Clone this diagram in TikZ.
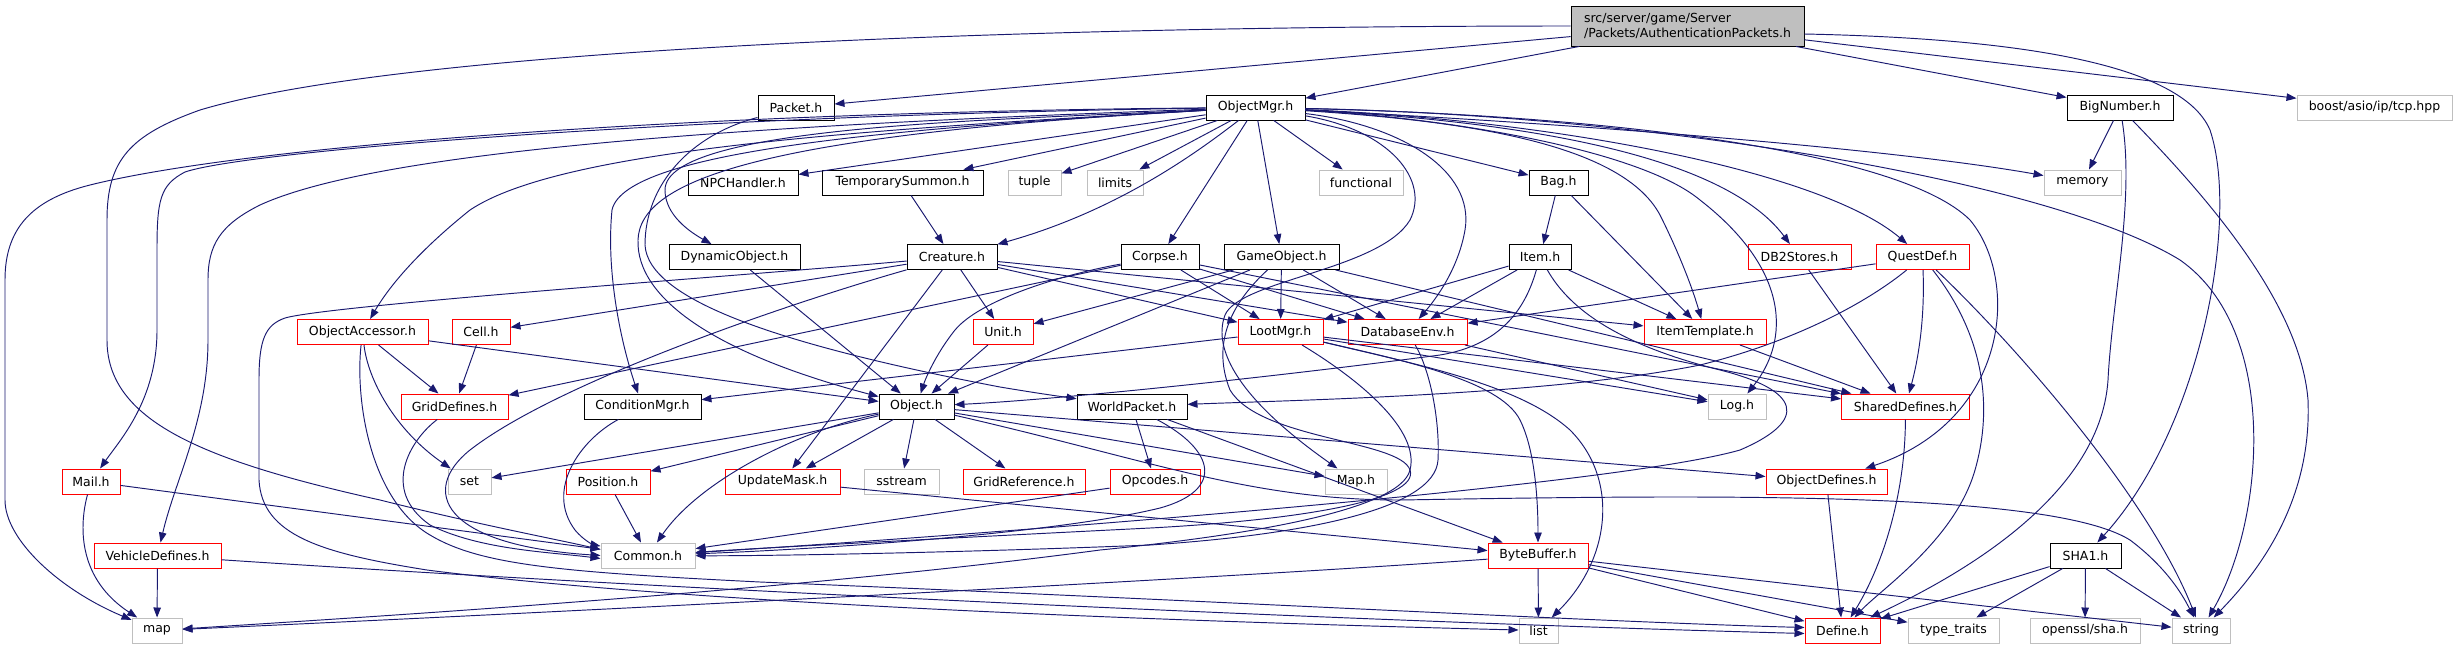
\documentclass[tikz,border=0pt]{standalone}
\usepackage{fontspec}
\setmainfont{DejaVu Sans}
\usetikzlibrary{arrows.meta}
\definecolor{edgeblue}{RGB}{25,25,112}
\definecolor{greyb}{RGB}{191,191,191}
\definecolor{redb}{RGB}{255,0,0}
\tikzset{
  box/.style={draw, line width=1pt, inner sep=0pt, minimum height=25pt, fill=white, font=\fontsize{12.5}{15}\selectfont},
  blkbox/.style={box, draw=black, line width=0.9pt},
  redbox/.style={box, draw=redb},
  graybox/.style={box, draw=greyb},
  lnk/.style={draw=edgeblue, line width=0.95pt, -{Triangle[length=10pt,width=7.5pt]}}
}
\begin{document}
\begin{tikzpicture}[x=1pt,y=-1pt]
\useasboundingbox (0,0) rectangle (2457,649);
\fill[white] (0,0) rectangle (2457,649);
% row 0
\node[blkbox, fill=greyb, minimum width=233pt, minimum height=40pt, align=left] (main) at (1687.5,26) {src/server/game/Server\\/Packets/AuthenticationPackets.h};
% row 1
\node[blkbox, minimum width=76pt] (packet) at (796,107.5) {Packet.h};
\node[blkbox, minimum width=99pt] (objmgr) at (1255.5,107.5) {ObjectMgr.h};
\node[blkbox, minimum width=106pt] (bignum) at (2120,107.5) {BigNumber.h};
\node[graybox, minimum width=155pt] (tcp) at (2374.5,107.5) {boost/asio/ip/tcp.hpp};
% row 2
\node[blkbox, minimum width=110pt] (npch) at (743,182.5) {NPCHandler.h};
\node[blkbox, minimum width=161pt] (tsum) at (902.5,182.5) {TemporarySummon.h};
\node[graybox, minimum width=53pt] (tuple) at (1034.5,182.5) {tuple};
\node[graybox, minimum width=56pt] (limits) at (1115,182.5) {limits};
\node[graybox, minimum width=84pt] (functional) at (1361,182.5) {functional};
\node[blkbox, minimum width=59pt] (bag) at (1558.5,182.5) {Bag.h};
\node[graybox, minimum width=77pt] (memory) at (2082.5,182.5) {memory};
% row 3
\node[blkbox, minimum width=131pt] (dynobj) at (734.5,257) {DynamicObject.h};
\node[blkbox, minimum width=90pt] (creature) at (952,257) {Creature.h};
\node[blkbox, minimum width=78pt] (corpse) at (1160,257) {Corpse.h};
\node[blkbox, minimum width=115pt] (gameobj) at (1281.5,257) {GameObject.h};
\node[blkbox, minimum width=62pt] (item) at (1540,257) {Item.h};
\node[redbox, minimum width=103pt] (db2) at (1799.5,257) {DB2Stores.h};
\node[redbox, minimum width=93pt] (quest) at (1922.5,257) {QuestDef.h};
% row 4
\node[redbox, minimum width=131pt] (objacc) at (362.5,332) {ObjectAccessor.h};
\node[redbox, minimum width=58pt] (cell) at (481,332) {Cell.h};
\node[redbox, minimum width=60pt] (unit) at (1003,332) {Unit.h};
\node[redbox, minimum width=85pt] (loot) at (1280.5,332) {LootMgr.h};
\node[redbox, minimum width=119pt] (dbenv) at (1407.5,332) {DatabaseEnv.h};
\node[redbox, minimum width=122pt] (itemtpl) at (1705,332) {ItemTemplate.h};
% row 5
\node[redbox, minimum width=107pt] (griddef) at (454.5,406.5) {GridDefines.h};
\node[blkbox, minimum width=117pt] (cond) at (642.5,406.5) {ConditionMgr.h};
\node[blkbox, minimum width=75pt] (object) at (916.5,406.5) {Object.h};
\node[blkbox, minimum width=110pt] (worldpkt) at (1132,406.5) {WorldPacket.h};
\node[graybox, minimum width=58pt] (log) at (1737,406.5) {Log.h};
\node[redbox, minimum width=128pt] (shared) at (1905.5,406.5) {SharedDefines.h};
% row 6
\node[redbox, minimum width=58pt] (mail) at (91,481.5) {Mail.h};
\node[graybox, minimum width=43pt] (set) at (469.5,481.5) {set};
\node[redbox, minimum width=84pt] (position) at (608,481.5) {Position.h};
\node[redbox, minimum width=115pt] (updmask) at (782.5,481.5) {UpdateMask.h};
\node[graybox, minimum width=75pt] (sstream) at (901.5,481.5) {sstream};
\node[redbox, minimum width=122pt] (gridref) at (1024,481.5) {GridReference.h};
\node[redbox, minimum width=90pt] (opcodes) at (1155,481.5) {Opcodes.h};
\node[graybox, minimum width=62pt] (maph) at (1356,481.5) {Map.h};
\node[redbox, minimum width=121pt] (objdef) at (1826.5,481.5) {ObjectDefines.h};
% row 7
\node[redbox, minimum width=127pt] (vehicle) at (157.5,555.5) {VehicleDefines.h};
\node[graybox, minimum width=94pt] (common) at (648,555.5) {Common.h};
\node[redbox, minimum width=100pt] (bytebuf) at (1538,555.5) {ByteBuffer.h};
\node[blkbox, minimum width=71pt] (sha1) at (2085.5,555.5) {SHA1.h};
% row 8
\node[graybox, minimum width=50pt] (map) at (157,630.5) {map};
\node[graybox, minimum width=39pt] (list) at (1538.5,630.5) {list};
\node[redbox, minimum width=75pt] (define) at (1842.5,630.5) {Define.h};
\node[graybox, minimum width=91pt] (typetraits) at (1953.5,630.5) {type\_traits};
\node[graybox, minimum width=110pt] (openssl) at (2085,630.5) {openssl/sha.h};
\node[graybox, minimum width=58pt] (string) at (2201,630.5) {string};

% ---- edges from main
\draw[lnk] (main) -- (packet);
\draw[lnk] (main) -- (objmgr);
\draw[lnk] (main) -- (bignum);
\draw[lnk] (main) -- (tcp);
\draw[lnk] (main.west) .. controls (1000,26) and (400,50) .. (200,110) .. controls (130,135) and (107,160) .. (107,220) -- (107,340) .. controls (107,420) and (200,460) .. (380,500) .. controls (480,525) and (560,540) .. ([yshift=6pt]common.west);
\draw[lnk] ([yshift=-8pt]main.east) .. controls (2000,38) and (2180,60) .. (2210,130) .. controls (2240,220) and (2200,430) .. (sha1);
% packet
\draw[lnk] (packet) .. controls (690,135) and (645,185) .. (645,245) .. controls (648,300) and (780,345) .. (1000,387) .. controls (1030,392) and (1050,395) .. (worldpkt);
% objmgr
\draw[lnk] (objmgr) -- (npch);
\draw[lnk] (objmgr) -- (tsum);
\draw[lnk] (objmgr) -- (tuple);
\draw[lnk] (objmgr) -- (limits);
\draw[lnk] (objmgr) -- (functional);
\draw[lnk] (objmgr) -- (bag);
\draw[lnk] (objmgr) .. controls (1600,125) and (1900,150) .. (memory);
\draw[lnk] (objmgr) .. controls (1200,150) and (1120,210) .. (creature);
\draw[lnk] (objmgr) -- (corpse);
\draw[lnk] (objmgr) -- (gameobj);
\draw[lnk] (objmgr) .. controls (1000,120) and (665,125) .. (665,190) .. controls (665,215) and (690,232) .. (dynobj);
\draw[lnk] (objmgr) .. controls (850,130) and (560,150) .. (470,210) .. controls (420,250) and (390,285) .. (objacc);
\draw[lnk] (objmgr) .. controls (900,128) and (625,150) .. (612,210) .. controls (606,270) and (620,340) .. (cond);
\draw[lnk] (objmgr) .. controls (700,115) and (250,150) .. (185,172) .. controls (160,185) and (157,200) .. (157,250) -- (157,330) .. controls (157,400) and (120,440) .. (mail);
\draw[lnk] (objmgr) .. controls (750,125) and (380,150) .. (260,205) .. controls (220,225) and (208,245) .. (208,280) -- (208,340) .. controls (208,420) and (175,480) .. (vehicle);
\draw[lnk] (objmgr) .. controls (700,112) and (250,145) .. (90,185) .. controls (30,200) and (5,230) .. (5,280) -- (5,500) .. controls (5,540) and (60,590) .. (map);
\draw[lnk] (objmgr) .. controls (760,135) and (640,180) .. (638,240) .. controls (636,300) and (720,355) .. (object);
\draw[lnk] (objmgr) .. controls (1400,125) and (1475,170) .. (1465,230) .. controls (1458,270) and (1435,300) .. (dbenv);
\draw[lnk] (objmgr) .. controls (1450,120) and (1620,140) .. (1660,215) .. controls (1680,255) and (1693,290) .. (itemtpl);
\draw[lnk] (objmgr) .. controls (1500,120) and (1720,150) .. (db2);
\draw[lnk] (objmgr) .. controls (1550,120) and (1820,170) .. (quest);
\draw[lnk] (objmgr) .. controls (1450,118) and (1640,150) .. (1700,200) .. controls (1790,270) and (1790,340) .. (log);
\draw[lnk] (objmgr) .. controls (1600,115) and (1900,150) .. (1970,220) .. controls (2020,280) and (2010,420) .. (objdef);
\draw[lnk] (objmgr) .. controls (1650,115) and (2050,180) .. (2180,260) .. controls (2280,330) and (2265,520) .. (string);
\draw[lnk] (objmgr) .. controls (1390,130) and (1430,180) .. (1410,220) .. controls (1380,270) and (1240,280) .. (1225,315) .. controls (1212,350) and (1240,400) .. (maph);
% bignum
\draw[lnk] (bignum) -- (memory);
\draw[lnk] (bignum) .. controls (2135,200) and (2112,300) .. (2108,380) .. controls (2100,500) and (1950,580) .. (define);
\draw[lnk] (bignum) .. controls (2200,190) and (2300,300) .. (2308,400) .. controls (2312,500) and (2260,570) .. (string);
% tsum
\draw[lnk] (tsum) -- (creature);
% dynobj
\draw[lnk] (dynobj) -- (object);
% creature
\draw[lnk] (creature) -- (cell);
\draw[lnk] (creature) -- (unit);
\draw[lnk] (creature) -- (loot);
\draw[lnk] (creature) -- (dbenv);
\draw[lnk] (creature) -- (itemtpl);
\draw[lnk] (creature) -- (updmask);
\draw[lnk] (creature) .. controls (800,300) and (560,380) .. (470,450) .. controls (420,490) and (440,545) .. (common.west);
\draw[lnk] (creature) .. controls (750,275) and (330,305) .. (285,318) .. controls (265,325) and (259,340) .. (259,380) -- (259,480) .. controls (262,535) and (320,553) .. (427,570) .. controls (700,605) and (1200,622) .. (list);
% corpse
\draw[lnk] (corpse) -- (griddef);
\draw[lnk] (corpse) .. controls (1060,275) and (980,300) .. (955,330) .. controls (935,355) and (925,380) .. (object);
\draw[lnk] (corpse) -- (loot);
\draw[lnk] (corpse) -- (dbenv);
\draw[lnk] (corpse) -- (shared);
% gameobj
\draw[lnk] (gameobj) -- (unit);
\draw[lnk] (gameobj) -- (object);
\draw[lnk] (gameobj) -- (loot);
\draw[lnk] (gameobj) -- (dbenv);
\draw[lnk] (gameobj) -- (shared);
\draw[lnk] (gameobj) .. controls (1235,300) and (1210,340) .. (1230,390) .. controls (1260,440) and (1400,440) .. (1410,470) .. controls (1420,500) and (1300,520) .. (1150,528) .. controls (950,538) and (760,548) .. (common);
% item
\draw[lnk] (item) -- (loot);
\draw[lnk] (item) -- (dbenv);
\draw[lnk] (item) -- (itemtpl);
\draw[lnk] (item) .. controls (1525,310) and (1500,345) .. (1440,355) .. controls (1250,380) and (1050,400) .. (object);
\draw[lnk] (item) .. controls (1570,310) and (1620,345) .. (1720,370) .. controls (1800,390) and (1810,420) .. (1740,450) .. controls (1600,490) and (900,540) .. (common);
% bag
\draw[lnk] (bag) -- (item);
\draw[lnk] (bag) -- (itemtpl);
% db2, quest
\draw[lnk] (db2) -- (shared);
\draw[lnk] (quest) -- (dbenv);
\draw[lnk] (quest) .. controls (1870,300) and (1800,340) .. (1700,365) .. controls (1550,395) and (1300,400) .. (worldpkt);
\draw[lnk] (quest) .. controls (1925,320) and (1918,360) .. (shared);
\draw[lnk] (quest) .. controls (1980,330) and (1995,400) .. (1975,470) .. controls (1955,540) and (1880,590) .. (define);
\draw[lnk] (quest) .. controls (2020,350) and (2150,500) .. (string);
% loot
\draw[lnk] (loot) -- (cond);
\draw[lnk] (loot) -- (log);
\draw[lnk] (loot) -- (shared);
\draw[lnk] (loot) .. controls (1400,360) and (1500,380) .. (1520,420) .. controls (1535,450) and (1538,500) .. (bytebuf);
\draw[lnk] (loot) .. controls (1420,365) and (1520,385) .. (1570,430) .. controls (1620,480) and (1610,560) .. (list);
\draw[lnk] (loot) .. controls (1360,380) and (1420,430) .. (1410,470) .. controls (1400,510) and (1250,535) .. (1100,550) .. controls (800,590) and (400,615) .. (map);
% dbenv
\draw[lnk] (dbenv) -- (log);
\draw[lnk] (dbenv) .. controls (1430,370) and (1440,420) .. (1438,460) .. controls (1435,510) and (1300,535) .. (1150,545) .. controls (950,553) and (760,556) .. (common);
% itemtpl
\draw[lnk] (itemtpl) -- (shared);
% objacc
\draw[lnk] (objacc) -- (griddef);
\draw[lnk] (objacc) .. controls (368,380) and (395,430) .. (set);
\draw[lnk] (objacc) -- (object);
\draw[lnk] (objacc) .. controls (355,400) and (370,500) .. (430,535) .. controls (480,565) and (560,572) .. (760,582) .. controls (1200,600) and (1600,622) .. ([yshift=3pt]define.west);
% cell, griddef, cond
\draw[lnk] (cell) -- (griddef);
\draw[lnk] (griddef) .. controls (410,440) and (380,490) .. (430,525) .. controls (480,550) and (550,552) .. ([yshift=-3pt]common.west);
\draw[lnk] (cond) .. controls (580,440) and (545,490) .. (575,530) .. controls (585,542) and (595,545) .. (common);
% object
\draw[lnk] (object) -- (set);
\draw[lnk] (object) -- (position);
\draw[lnk] (object) -- (updmask);
\draw[lnk] (object) -- (sstream);
\draw[lnk] (object) -- (gridref);
\draw[lnk] (object) -- (maph);
\draw[lnk] (object) -- (objdef);
\draw[lnk] (object) .. controls (800,430) and (700,480) .. (common);
\draw[lnk] (object) .. controls (1150,460) and (1250,500) .. (1400,500) .. controls (1700,495) and (2050,490) .. (2130,540) .. controls (2170,570) and (2185,600) .. (string);
% worldpkt
\draw[lnk] (worldpkt) -- (opcodes);
\draw[lnk] (worldpkt) -- (bytebuf);
\draw[lnk] (worldpkt) .. controls (1215,450) and (1225,490) .. (1160,508) .. controls (1050,535) and (800,550) .. (common);
% misc
\draw[lnk] (opcodes) -- (common);
\draw[lnk] (position) -- (common);
\draw[lnk] (updmask) -- (bytebuf);
\draw[lnk] (unit) -- (object);
\draw[lnk] (mail) -- (common);
\draw[lnk] (mail) .. controls (78,530) and (80,580) .. (map);
\draw[lnk] (vehicle) -- (map);
\draw[lnk] (vehicle) .. controls (600,585) and (1300,620) .. ([yshift=-3pt]define.west);
% bytebuf
\draw[lnk] (bytebuf) -- (list);
\draw[lnk] (bytebuf) .. controls (1200,580) and (500,615) .. (map);
\draw[lnk] (bytebuf) -- (define);
\draw[lnk] (bytebuf) -- (typetraits);
\draw[lnk] (bytebuf) -- (string);
% shared, objdef, sha1
\draw[lnk] (shared) .. controls (1905,500) and (1880,570) .. (define);
\draw[lnk] (objdef) -- (define);
\draw[lnk] (sha1) -- (define);
\draw[lnk] (sha1) -- (typetraits);
\draw[lnk] (sha1) -- (openssl);
\draw[lnk] (sha1) -- (string);
\end{tikzpicture}
\end{document}
